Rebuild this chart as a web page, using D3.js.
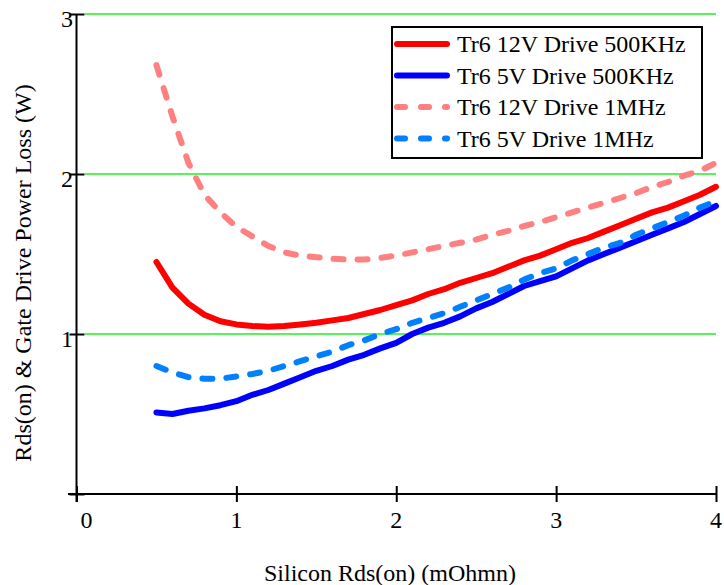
<!DOCTYPE html>
<html>
<head>
<meta charset="utf-8">
<script src="https://cdn.jsdelivr.net/npm/d3@7"></script>
<style>
    body { margin: 0; background: #fff; }
    svg { display: block; }
    text { font-family: "Liberation Serif", "Times New Roman", serif; fill: #000; }
</style>
</head>
<body>
<svg></svg>
<script>
var viewWidth = 724;
var viewHeight = 585;

// Rds(on) values, mOhm
var rds = [0.5, 0.6, 0.7, 0.8, 0.9, 1.0, 1.1, 1.2, 1.3, 1.4, 1.5, 1.6, 1.7, 1.8, 1.9, 2.0,
    2.1, 2.2, 2.3, 2.4, 2.5, 2.6, 2.7, 2.8, 2.9, 3.0, 3.1, 3.2, 3.3, 3.4, 3.5, 3.6, 3.7, 3.8, 3.9, 4.0];

var loss12v500k = [1.45, 1.29, 1.19, 1.12, 1.08, 1.06, 1.05, 1.045, 1.05, 1.06, 1.07, 1.085, 1.10, 1.125, 1.15, 1.18,
    1.21, 1.25, 1.28, 1.32, 1.35, 1.38, 1.42, 1.46, 1.49, 1.53, 1.57, 1.60, 1.64, 1.68, 1.72, 1.76, 1.79, 1.83, 1.87, 1.92];
var loss5v500k = [0.51, 0.50, 0.52, 0.535, 0.555, 0.58, 0.62, 0.65, 0.69, 0.73, 0.77, 0.80, 0.84, 0.87, 0.91, 0.945,
    1.0, 1.04, 1.07, 1.11, 1.16, 1.20, 1.25, 1.30, 1.33, 1.36, 1.41, 1.46, 1.50, 1.54, 1.58, 1.62, 1.66, 1.70, 1.75, 1.80];
var loss12v1m = [2.68, 2.36, 2.07, 1.87, 1.76, 1.67, 1.61, 1.55, 1.51, 1.49, 1.48, 1.47, 1.465, 1.465, 1.475, 1.49,
    1.51, 1.53, 1.55, 1.57, 1.59, 1.62, 1.645, 1.675, 1.70, 1.73, 1.76, 1.79, 1.82, 1.85, 1.88, 1.92, 1.95, 1.99, 2.02, 2.07];
var loss5v1m = [0.80, 0.76, 0.73, 0.72, 0.72, 0.735, 0.75, 0.77, 0.80, 0.83, 0.86, 0.89, 0.93, 0.96, 1.0, 1.03,
    1.07, 1.10, 1.13, 1.17, 1.21, 1.25, 1.29, 1.34, 1.38, 1.41, 1.46, 1.50, 1.54, 1.57, 1.62, 1.66, 1.70, 1.74, 1.79, 1.83];

var seriesNames = ["Tr6 12V Drive 500KHz", "Tr6 5V Drive 500KHz", "Tr6 12V Drive 1MHz", "Tr6 5V Drive 1MHz"];
var seriesValues = [loss12v500k, loss5v500k, loss12v1m, loss5v1m];
var seriesColors = ["#ff0000", "#0000ff", "#ff8080", "#0080ff"];
var seriesDashed = [false, false, true, true];

var xTicks = [0, 1, 2, 3, 4];
var yTicks = [1, 2, 3];

var svg = d3.select("svg")
    .attr("width", viewWidth)
    .attr("height", viewHeight);

var xScale = d3.scaleLinear().domain([0, 4]).range([76.5, 716]);
var yScale = d3.scaleLinear().domain([0, 3]).range([494, 14]);

// grid
svg.append("g")
    .selectAll("line")
    .data(yTicks)
    .enter()
    .append("line")
    .attr("x1", 85)
    .attr("x2", xScale(4))
    .attr("y1", function (d) { return yScale(d); })
    .attr("y2", function (d) { return yScale(d); })
    .attr("stroke", "#22ee22")
    .attr("stroke-width", 1.3);

// axes
var xAxis = d3.axisBottom(xScale).tickValues(xTicks).tickSize(8).tickFormat("");
var yAxis = d3.axisLeft(yScale).tickValues([0].concat(yTicks)).tickSize(7).tickFormat("");

var gx = svg.append("g")
    .attr("transform", "translate(0," + yScale(0) + ")")
    .call(xAxis);
gx.select(".domain").attr("d", "M68,0H" + xScale(4));
gx.selectAll(".tick line").attr("y1", -8);

var gy = svg.append("g")
    .attr("transform", "translate(" + xScale(0) + ",0)")
    .call(yAxis);
gy.select(".domain").attr("d", "M0," + yScale(3) + "V" + (yScale(0) + 8));
gy.selectAll(".tick line").attr("x2", 8).attr("x1", -7);

svg.selectAll(".domain, .tick line")
    .attr("stroke", "#000")
    .attr("stroke-width", 2);

// tick labels
svg.append("g")
    .selectAll("text")
    .data(xTicks)
    .enter()
    .append("text")
    .attr("x", function (d) { return xScale(d) + (d === 0 ? 10 : 0); })
    .attr("y", 528)
    .attr("text-anchor", "middle")
    .style("font-size", "24px")
    .text(function (d) { return d; });

svg.append("g")
    .selectAll("text")
    .data(yTicks)
    .enter()
    .append("text")
    .attr("x", 73)
    .attr("y", function (d) { return yScale(d) + 13; })
    .attr("text-anchor", "end")
    .style("font-size", "24px")
    .text(function (d) { return d; });

// axis titles
svg.append("text")
    .attr("x", 390)
    .attr("y", 581)
    .attr("text-anchor", "middle")
    .style("font-size", "24px")
    .text("Silicon Rds(on) (mOhmn)");

svg.append("text")
    .attr("transform", "translate(31,273) rotate(-90)")
    .attr("text-anchor", "middle")
    .style("font-size", "24px")
    .text("Rds(on) & Gate Drive Power Loss (W)");

// curves
var line = d3.line()
    .x(function (d, i) { return xScale(rds[i]); })
    .y(function (d) { return yScale(d); });

svg.append("g")
    .selectAll("path")
    .data(seriesValues)
    .enter()
    .append("path")
    .attr("d", line)
    .attr("fill", "none")
    .attr("stroke", function (d, i) { return seriesColors[i]; })
    .attr("stroke-width", 6)
    .attr("stroke-linejoin", "round")
    .attr("stroke-linecap", "round")
    .attr("stroke-dasharray", function (d, i) { return seriesDashed[i] ? "10,14" : null; });

// legend
var legend = svg.append("g");
legend.append("rect")
    .attr("x", 392)
    .attr("y", 27)
    .attr("width", 310)
    .attr("height", 131)
    .attr("fill", "#fff")
    .attr("stroke", "#000")
    .attr("stroke-width", 2);

var item = legend.selectAll("g")
    .data(seriesNames)
    .enter()
    .append("g")
    .attr("transform", function (d, i) { return "translate(0," + (44 + i * 31.5) + ")"; });

item.append("line")
    .attr("x1", 397)
    .attr("x2", 447)
    .attr("stroke", function (d, i) { return seriesColors[i]; })
    .attr("stroke-width", 6)
    .attr("stroke-linecap", "round")
    .attr("stroke-dasharray", function (d, i) { return seriesDashed[i] ? "8,16" : null; });

item.append("text")
    .attr("x", 457)
    .attr("y", 8)
    .style("font-size", "24px")
    .text(function (d) { return d; });
</script>
</body>
</html>
